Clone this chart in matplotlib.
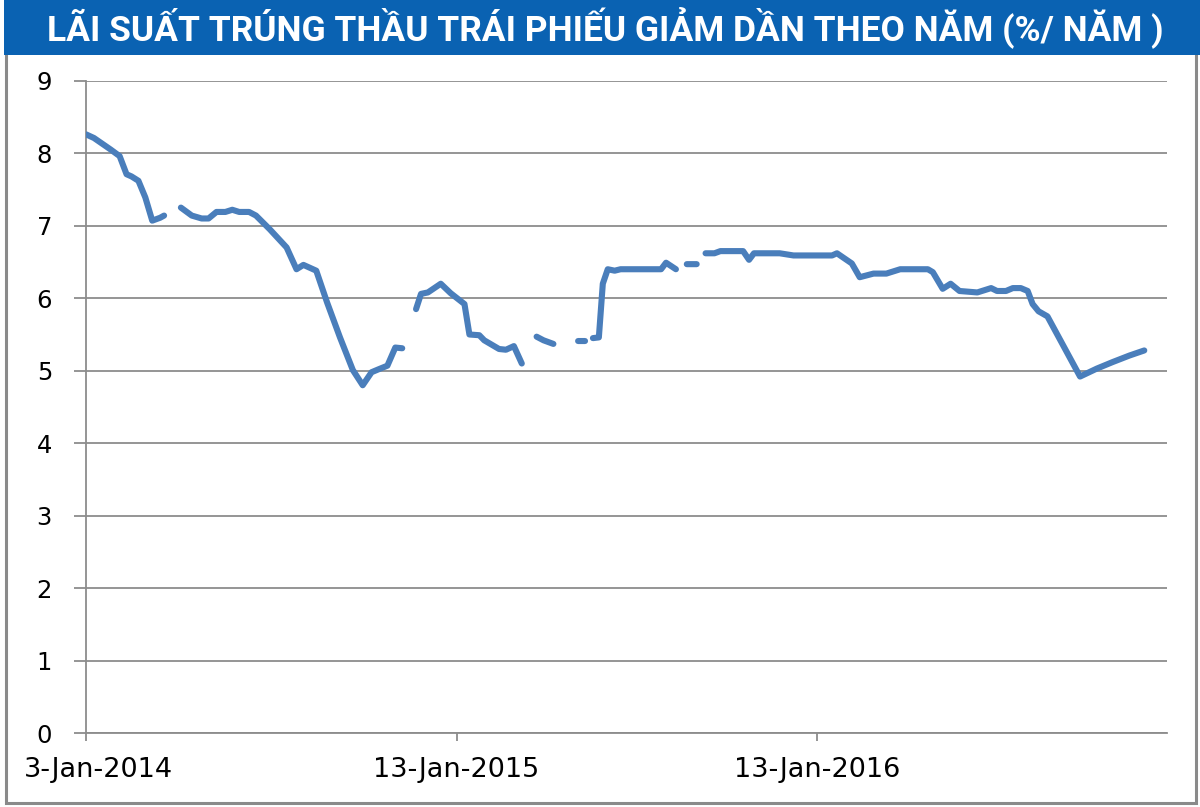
import numpy as np
import pandas as pd
import matplotlib
matplotlib.use("Agg")
import matplotlib.pyplot as plt
from matplotlib.patches import Rectangle
from matplotlib.transforms import ScaledTranslation

TITLE = "LÃI SUẤT TRÚNG THẦU TRÁI PHIẾU GIẢM DẦN THEO NĂM (%/ NĂM )"

# auction dates and rates (%/year); NaN = missing value (gap in line)
dates = [
    "2014-01-03", "2014-01-11", "2014-01-28", "2014-02-06", "2014-02-13", "2014-02-18",
    "2014-02-25", "2014-03-04", "2014-03-11", "2014-03-19", "2014-03-23", "2014-03-30",
    "2014-04-09", "2014-04-20", "2014-04-30", "2014-05-07", "2014-05-15", "2014-05-24",
    "2014-05-31", "2014-06-07", "2014-06-17", "2014-06-24", "2014-07-08", "2014-07-25",
    "2014-08-04", "2014-08-11", "2014-08-24", "2014-09-04", "2014-09-17", "2014-09-30",
    "2014-10-10", "2014-10-19", "2014-10-26", "2014-11-04", "2014-11-12", "2014-11-19",
    "2014-11-26",
    "2014-12-03", "2014-12-08", "2014-12-15", "2014-12-28", "2015-01-07", "2015-01-21",
    "2015-01-26", "2015-02-05", "2015-02-10", "2015-02-25", "2015-03-04", "2015-03-12",
    "2015-03-20", "2015-03-27",
    "2015-04-04", "2015-04-11", "2015-04-21", "2015-05-01",
    "2015-05-16", "2015-05-23", "2015-05-27",
    "2015-05-31", "2015-06-06", "2015-06-10", "2015-06-15", "2015-06-22", "2015-06-28",
    "2015-08-08", "2015-08-13", "2015-08-23", "2015-08-30",
    "2015-09-03", "2015-09-13", "2015-09-17",
    "2015-09-22", "2015-10-01", "2015-10-07", "2015-10-30", "2015-11-05", "2015-11-10",
    "2015-12-06", "2015-12-20", "2016-01-28", "2016-02-02", "2016-02-17", "2016-02-25",
    "2016-03-10", "2016-03-23", "2016-04-06", "2016-05-04", "2016-05-09", "2016-05-19",
    "2016-05-27", "2016-06-05", "2016-06-23", "2016-07-07", "2016-07-13", "2016-07-22",
    "2016-07-29", "2016-08-06", "2016-08-13", "2016-08-18", "2016-08-24", "2016-09-02",
    "2016-10-05", "2016-10-22", "2016-11-07", "2016-11-24", "2016-12-09",
]
rates = [
    8.26, 8.21, 8.05, 7.96, 7.71, 7.68,
    7.62, 7.39, 7.07, 7.11, 7.14, np.nan,
    7.25, 7.14, 7.10, 7.10, 7.19, 7.19,
    7.22, 7.19, 7.19, 7.14, 6.95, 6.70,
    6.40, 6.46, 6.38, 5.94, 5.46, 5.01,
    4.80, 4.98, 5.02, 5.07, 5.32, 5.31,
    np.nan,
    5.85, 6.06, 6.08, 6.20, 6.07, 5.92,
    5.50, 5.49, 5.42, 5.30, 5.29, 5.34,
    5.10, np.nan,
    5.47, 5.42, 5.37, np.nan,
    5.41, 5.41, np.nan,
    5.45, 5.46, 6.20, 6.40, 6.38, 6.40,
    6.40, 6.49, 6.40, np.nan,
    6.47, 6.47, np.nan,
    6.62, 6.62, 6.65, 6.65, 6.53, 6.62,
    6.62, 6.59, 6.59, 6.62, 6.48, 6.29,
    6.34, 6.34, 6.40, 6.40, 6.36, 6.13,
    6.20, 6.10, 6.08, 6.14, 6.10, 6.10,
    6.14, 6.14, 6.10, 5.92, 5.82, 5.75,
    4.92, 5.03, 5.12, 5.21, 5.28,
]
tick_dates = ["2014-01-03", "2015-01-13", "2016-01-13"]
tick_labels = ["3-Jan-2014", "13-Jan-2015", "13-Jan-2016"]
y_ticks = list(range(0, 10))

x = pd.to_datetime(dates)
y = np.array(rates, dtype=float)

GRID = "#8c8c8c"
LINE = "#4a7ebb"

fig = plt.figure(figsize=(12, 8.07), dpi=100)
ax = fig.add_axes([0.0717, 0.0913, 0.9008, 0.8087])

# outer frame and title bar
fig.patches.append(Rectangle((0.005, 0.005), 0.992, 0.94, transform=fig.transFigure,
                             fill=False, edgecolor="#8a8a8a", lw=2.2))
fig.patches.append(Rectangle((0.003, 0.932), 0.997, 0.068, transform=fig.transFigure,
                             facecolor="#0a62b2", edgecolor="none"))
title = fig.text(0.504, 0.966, TITLE, color="white", fontsize=24, fontweight="bold",
                 family=["Roboto", "DejaVu Sans"], ha="center", va="center")
# shrink title to the width of the bar text in the original (~1115 px)
r = fig.canvas.get_renderer()
w = title.get_window_extent(r).width
title.set_fontsize(24 * min(1.2, 1115 / w))

ax.plot(x, y, color=LINE, lw=4.4, solid_capstyle="round", solid_joinstyle="round", zorder=3)

ax.set_xlim(pd.Timestamp("2014-01-03"), pd.Timestamp("2017-01-01"))
ax.set_ylim(0, 9)
ax.set_yticks(y_ticks)
ax.set_xticks(pd.to_datetime(tick_dates))
ax.set_xticklabels(tick_labels)

ax.grid(axis="y", color=GRID, lw=1.3)
ax.set_axisbelow(True)
for s in ["top", "right"]:
    ax.spines[s].set_visible(False)
for s in ["left", "bottom"]:
    ax.spines[s].set_color(GRID)
    ax.spines[s].set_linewidth(1.3)

ax.tick_params(axis="y", direction="out", length=8.5, width=1.3, color=GRID,
               labelsize=17.5, pad=16)
ax.tick_params(axis="x", direction="out", length=6, width=1.3, color=GRID,
               labelsize=19.5, pad=11)

# first date label sits a bit right of its tick, as in the original
first = ax.get_xticklabels()[0]
first.set_transform(first.get_transform() + ScaledTranslation(0.12, 0, fig.dpi_scale_trans))

fig.savefig("out.png", dpi=100)
